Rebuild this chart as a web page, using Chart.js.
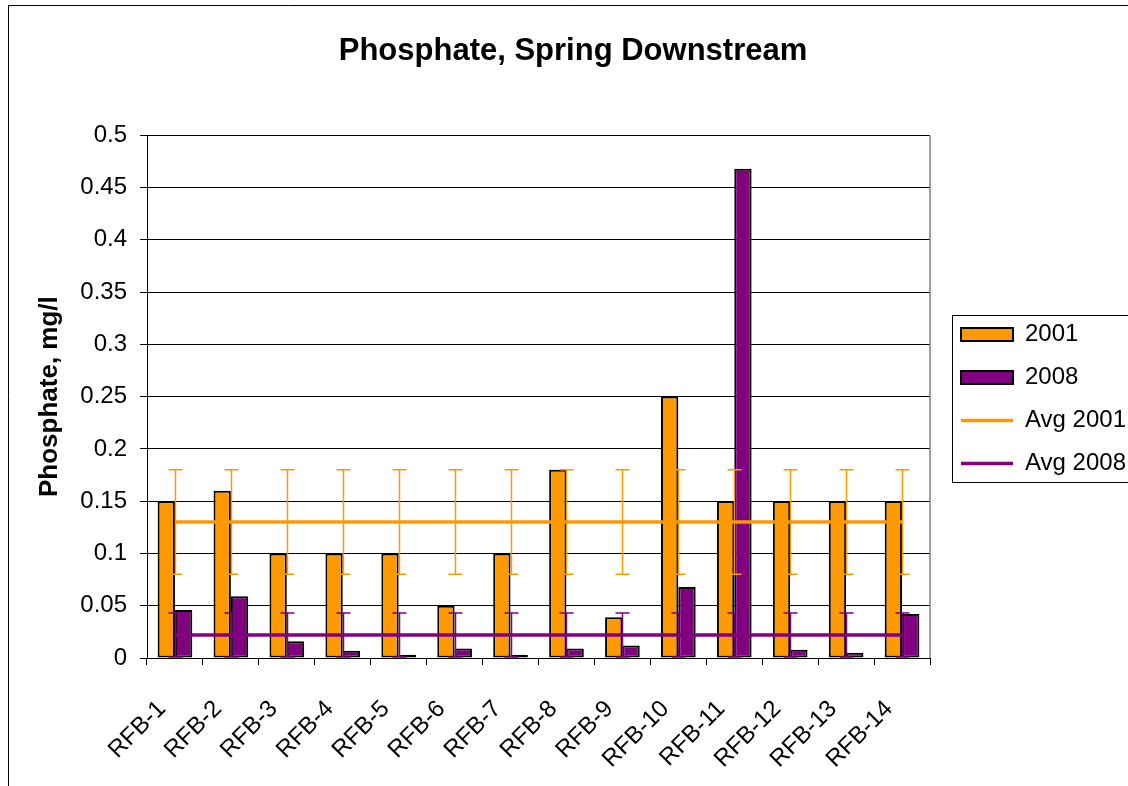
<!DOCTYPE html>
<html>
<head>
<meta charset="utf-8">
<title>Phosphate, Spring Downstream</title>
<script src="https://cdn.jsdelivr.net/npm/chart.js@4.4.0/dist/chart.umd.min.js"></script>
<style>
  html, body { margin: 0; padding: 0; background: #fff; }
  #wrap { position: relative; width: 1128px; height: 786px; }
</style>
</head>
<body>
<div id="wrap"><canvas id="phosphateChart"></canvas></div>
<script>
// Data
const categories = ["RFB-1", "RFB-2", "RFB-3", "RFB-4", "RFB-5", "RFB-6", "RFB-7",
  "RFB-8", "RFB-9", "RFB-10", "RFB-11", "RFB-12", "RFB-13", "RFB-14"];
const values2001 = [0.15, 0.16, 0.10, 0.10, 0.10, 0.05, 0.10, 0.18, 0.039, 0.25, 0.15, 0.15, 0.15, 0.15];
const values2008 = [0.046, 0.059, 0.016, 0.007, 0.003, 0.009, 0.003, 0.009, 0.012, 0.068, 0.468, 0.008, 0.005, 0.042];
const avg2001 = [0.13, 0.13, 0.13, 0.13, 0.13, 0.13, 0.13, 0.13, 0.13, 0.13, 0.13, 0.13, 0.13, 0.13];
const avg2008 = [0.022, 0.022, 0.022, 0.022, 0.022, 0.022, 0.022, 0.022, 0.022, 0.022, 0.022, 0.022, 0.022, 0.022];
const err2001 = [0.05, 0.05, 0.05, 0.05, 0.05, 0.05, 0.05, 0.05, 0.05, 0.05, 0.05, 0.05, 0.05, 0.05];
const err2008 = [0.021, 0.021, 0.021, 0.021, 0.021, 0.021, 0.021, 0.021, 0.021, 0.021, 0.021, 0.021, 0.021, 0.021];
const yTicks = [0, 0.05, 0.1, 0.15, 0.2, 0.25, 0.3, 0.35, 0.4, 0.45, 0.5];

const ORANGE = "#FF9900";
const PURPLE = "#800080";
const FONT = "'Liberation Sans', Arial, sans-serif";

// Plugins
const frame = {
  id: "frame",
  beforeDraw(chart) {
    const ctx = chart.ctx;
    ctx.save();
    ctx.fillStyle = "#fff";
    ctx.fillRect(0, 0, chart.width, chart.height);
    ctx.strokeStyle = "#000";
    ctx.lineWidth = 1;
    ctx.beginPath();
    ctx.moveTo(8.5, chart.height);
    ctx.lineTo(8.5, 5.5);
    ctx.lineTo(chart.width, 5.5);
    ctx.stroke();
    ctx.restore();
  },
  afterLayout(chart) {
    // nudge legend a bit right and down, like the original
    chart.legend.left += 12;
    chart.legend.right += 12;
    chart.legend.top += 6;
    chart.legend.bottom += 6;
  },
  afterDraw(chart) {
    const ctx = chart.ctx;
    const area = chart.chartArea;
    ctx.save();
    ctx.strokeStyle = "#808080";
    ctx.lineWidth = 1.5;
    ctx.beginPath();
    ctx.moveTo(area.right, area.top);
    ctx.lineTo(area.right, area.bottom);
    ctx.stroke();

    const boxes = chart.legend.legendHitBoxes;
    if (boxes && boxes.length) {
      const first = boxes[0];
      const last = boxes[boxes.length - 1];
      const top = Math.round(first.top - 8) + 0.5;
      const bottom = Math.round(last.top + last.height + 6) + 0.5;
      const left = Math.round(first.left - 9) + 0.5;
      ctx.strokeStyle = "#000";
      ctx.lineWidth = 1;
      ctx.strokeRect(left, top, chart.width + 10 - left, bottom - top);
    }
    ctx.restore();
  },
};

const errorBars = {
  id: "errorBars",
  afterDatasetsDraw(chart) {
    const ctx = chart.ctx;
    const x = chart.scales.x;
    const y = chart.scales.y;
    const sets = [
      { avg: avg2001, err: err2001, color: ORANGE },
      { avg: avg2008, err: err2008, color: PURPLE },
    ];
    ctx.save();
    ctx.lineWidth = 1.5;
    sets.forEach((s) => {
      ctx.strokeStyle = s.color;
      s.avg.forEach((v, i) => {
        const px = Math.round(x.getPixelForValue(i)) + 0.5;
        const top = y.getPixelForValue(v + s.err[i]);
        const bot = y.getPixelForValue(Math.max(0, v - s.err[i]));
        ctx.beginPath();
        ctx.moveTo(px, top);
        ctx.lineTo(px, bot);
        ctx.moveTo(px - 7, top);
        ctx.lineTo(px + 7, top);
        ctx.moveTo(px - 7, bot);
        ctx.lineTo(px + 7, bot);
        ctx.stroke();
      });
    });
    ctx.restore();
  },
};

// Config Chart
const config = {
  type: "bar",
  data: {
    labels: categories,
    datasets: [
      {
        type: "bar",
        label: "2001",
        data: values2001,
        backgroundColor: ORANGE,
        borderColor: "#000",
        borderWidth: 2,
        borderSkipped: false,
        categoryPercentage: 0.62,
        barPercentage: 1.0,
        order: 1,
      },
      {
        type: "bar",
        label: "2008",
        data: values2008,
        backgroundColor: PURPLE,
        borderColor: "#000",
        borderWidth: 2,
        borderSkipped: false,
        categoryPercentage: 0.62,
        barPercentage: 1.0,
        order: 1,
      },
      {
        type: "line",
        label: "Avg 2001",
        data: avg2001,
        borderColor: ORANGE,
        backgroundColor: ORANGE,
        borderWidth: 3.5,
        pointRadius: 0,
        fill: false,
        order: 0,
      },
      {
        type: "line",
        label: "Avg 2008",
        data: avg2008,
        borderColor: PURPLE,
        backgroundColor: PURPLE,
        borderWidth: 3.5,
        pointRadius: 0,
        fill: false,
        order: 0,
      },
    ],
  },
  options: {
    responsive: true,
    maintainAspectRatio: false,
    animation: false,
    devicePixelRatio: 1,
    layout: { padding: { left: 22, right: 4, top: 0, bottom: 0 } },
    plugins: {
      title: {
        display: true,
        text: "Phosphate, Spring Downstream",
        color: "#000",
        font: { family: FONT, size: 31, weight: "bold" },
        padding: { top: 33, bottom: 65 },
      },
      legend: {
        display: true,
        position: "right",
        maxWidth: 198,
        labels: {
          usePointStyle: true,
          pointStyleWidth: 52,
          boxHeight: 13,
          padding: 19,
          color: "#000",
          font: { family: FONT, size: 24 },
          sort: (a, b) => a.datasetIndex - b.datasetIndex,
          generateLabels: (chart) => {
            const items = Chart.defaults.plugins.legend.labels.generateLabels(chart);
            items.forEach((it) => {
              const ds = chart.data.datasets[it.datasetIndex];
              it.pointStyle = ds.type === "line" ? "line" : "rect";
            });
            return items;
          },
        },
      },
      tooltip: { enabled: false },
    },
    scales: {
      x: {
        offset: true,
        grid: { offset: true, drawOnChartArea: false, color: "#000", tickLength: 7 },
        border: { color: "#000", width: 1 },
        ticks: {
          autoSkip: false,
          minRotation: 45,
          maxRotation: 45,
          color: "#000",
          font: { family: FONT, size: 24 },
          padding: 30,
          labelOffset: -13,
        },
        afterFit: (s) => { s.height = 128; },
      },
      y: {
        min: 0,
        max: 0.5,
        afterBuildTicks: (s) => { s.ticks = yTicks.map((v) => ({ value: v })); },
        grid: { color: "#000", tickLength: 7 },
        border: { color: "#000", width: 1 },
        ticks: {
          color: "#000",
          padding: 13,
          font: { family: FONT, size: 24 },
          callback: (v) => String(+v.toFixed(2)),
        },
        title: {
          display: true,
          text: "Phosphate, mg/l",
          color: "#000",
          font: { family: FONT, size: 26, weight: "bold" },
          padding: { top: 12, bottom: 0 },
        },
        afterFit: (s) => { s.width = 125; },
      },
    },
  },
  plugins: [frame, errorBars],
};

// Render Chart
const chartContext = document.getElementById("phosphateChart");
const phosphateChart = new Chart(chartContext, config);
</script>
</body>
</html>
